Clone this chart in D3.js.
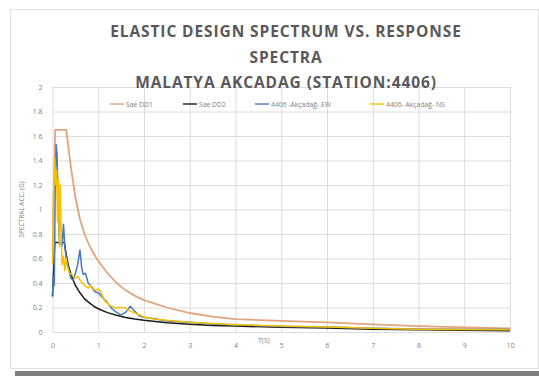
<!DOCTYPE html>
<html>
<head>
<meta charset="utf-8">
<script src="https://cdn.jsdelivr.net/npm/d3@7"></script>
<style>
  body { margin: 0; background: #fff; }
  text { font-family: "Open Sans", sans-serif; }
  .grid line { stroke: #dcdcdc; stroke-width: 1; }
  .grid path { display: none; }
  .tick text { fill: #7f7f7f; font-size: 7px; }
</style>
</head>
<body>
<div id="chart"></div>
<script>
"use strict";

var titleLines = ["ELASTIC DESIGN SPECTRUM VS. RESPONSE", "SPECTRA", "MALATYA AKCADAG (STATION:4406)"];
var xTicks = [0, 1, 2, 3, 4, 5, 6, 7, 8, 9, 10];
var yTicks = [0, 0.2, 0.4, 0.6, 0.8, 1, 1.2, 1.4, 1.6, 1.8, 2];
var yTickLabels = ["0", "0.2", "0.4", "0.6", "0.8", "1", "1.2", "1.4", "1.6", "1.8", "2"];
var seriesNames = ["Sae DD1", "Sae DD2", "4406 -Akçadağ- EW", "4406- Akçadağ- NS"];
var seriesColors = ["#e2a47c", "#1a1a1a", "#4a78c0", "#f5c000"];

// [T, Sa] pairs
var saeDD1 = [[0, 0.66], [0.06, 1.65], [0.3, 1.65], [0.35, 1.5], [0.4, 1.35], [0.5, 1.1], [0.6, 0.92], [0.7, 0.8],
  [0.8, 0.71], [0.9, 0.64], [1, 0.58], [1.2, 0.48], [1.4, 0.4], [1.6, 0.34], [1.8, 0.295], [2, 0.26], [2.5, 0.2],
  [3, 0.155], [3.5, 0.125], [4, 0.105], [5, 0.09], [6, 0.078], [7, 0.062], [8, 0.048], [9, 0.038], [10, 0.03]];
var saeDD2 = [[0, 0.29], [0.05, 0.73], [0.26, 0.73], [0.3, 0.63], [0.35, 0.54], [0.4, 0.475], [0.5, 0.38], [0.6, 0.32],
  [0.7, 0.27], [0.8, 0.24], [0.9, 0.21], [1, 0.19], [1.2, 0.158], [1.4, 0.136], [1.6, 0.119], [1.8, 0.106], [2, 0.095],
  [2.5, 0.076], [3, 0.063], [3.5, 0.054], [4, 0.048], [5, 0.038], [6, 0.032], [7, 0.023], [8, 0.018], [9, 0.014], [10, 0.011]];
var ew4406 = [[0, 0.3], [0.02, 0.45], [0.04, 0.38], [0.06, 1.2], [0.08, 1.53], [0.1, 1.45], [0.12, 1.1], [0.15, 0.75],
  [0.18, 0.72], [0.21, 0.7], [0.24, 0.88], [0.27, 0.7], [0.31, 0.57], [0.35, 0.52], [0.4, 0.44], [0.45, 0.42],
  [0.5, 0.48], [0.55, 0.55], [0.6, 0.67], [0.64, 0.52], [0.67, 0.47], [0.72, 0.48], [0.78, 0.4], [0.85, 0.37],
  [0.92, 0.33], [1, 0.32], [1.1, 0.28], [1.2, 0.24], [1.3, 0.19], [1.4, 0.16], [1.5, 0.14], [1.6, 0.16], [1.7, 0.21],
  [1.8, 0.17], [1.9, 0.13], [2, 0.12], [2.2, 0.11], [2.5, 0.09], [3, 0.08], [3.5, 0.065], [4, 0.058], [5, 0.045],
  [6, 0.04], [7, 0.03], [8, 0.025], [9, 0.022], [10, 0.02]];
var ns4406 = [[0, 0.55], [0.02, 1.1], [0.04, 1.35], [0.05, 1.42], [0.07, 1.2], [0.09, 1.32], [0.11, 0.9], [0.13, 1.25],
  [0.15, 0.7], [0.17, 1.2], [0.19, 0.8], [0.21, 0.55], [0.24, 0.62], [0.27, 0.5], [0.3, 0.6], [0.33, 0.53],
  [0.37, 0.48], [0.42, 0.47], [0.48, 0.44], [0.56, 0.45], [0.63, 0.41], [0.7, 0.38], [0.78, 0.36], [0.84, 0.38],
  [0.93, 0.34], [1, 0.35], [1.05, 0.33], [1.15, 0.25], [1.25, 0.22], [1.37, 0.195], [1.47, 0.2], [1.58, 0.2],
  [1.7, 0.17], [1.8, 0.155], [1.9, 0.14], [2.02, 0.12], [2.24, 0.105], [2.5, 0.095], [3, 0.08], [3.5, 0.07],
  [4, 0.06], [5, 0.048], [6, 0.04], [7, 0.03], [8, 0.022], [9, 0.02], [10, 0.018]];
var allSeries = [saeDD1, saeDD2, ew4406, ns4406];

var width = 539, height = 376;
var svg = d3.select("#chart").append("svg").attr("width", width).attr("height", height);

// chart frame and bottom band
svg.append("rect").attr("x", 10.5).attr("y", 9.5).attr("width", 528).attr("height", 359)
  .attr("fill", "#fff").attr("stroke", "#e0e0e0");
svg.append("rect").attr("x", 15).attr("y", 371).attr("width", 524).attr("height", 5).attr("fill", "#7f7f7f");

var x = d3.scaleLinear().domain([0, 10]).range([52.5, 510]);
var y = d3.scaleLinear().domain([0, 2]).range([332, 87]);

svg.append("g").attr("class", "grid").attr("transform", "translate(0," + y(0) + ")")
  .call(d3.axisBottom(x).tickValues(xTicks).tickSize(-(y(0) - y(2))).tickFormat(""));
svg.append("g").attr("class", "grid").attr("transform", "translate(" + x(0) + ",0)")
  .call(d3.axisLeft(y).tickValues(yTicks).tickSize(-(x(10) - x(0))).tickFormat(""));

// tick labels
var xAxis = svg.append("g").attr("transform", "translate(0," + (y(0) + 8) + ")")
  .call(d3.axisBottom(x).tickValues(xTicks).tickSize(0).tickFormat(d3.format("d")));
xAxis.select(".domain").remove();
var yAxis = svg.append("g").attr("transform", "translate(" + (x(0) - 7) + ",0)")
  .call(d3.axisLeft(y).tickValues(yTicks).tickSize(0).tickFormat(function(d, i) { return yTickLabels[i]; }));
yAxis.select(".domain").remove();

// lines
var line = d3.line().x(function(d) { return x(d[0]); }).y(function(d) { return y(d[1]); });
allSeries.forEach(function(s, i) {
  svg.append("path").datum(s).attr("d", line).attr("fill", "none")
    .attr("stroke", seriesColors[i]).attr("stroke-width", i === 0 ? 1.8 : 1.5)
    .attr("stroke-linejoin", "round");
});

// title
titleLines.forEach(function(t, i) {
  svg.append("text").attr("x", 286).attr("y", 37 + i * 25.5).attr("text-anchor", "middle")
    .attr("fill", "#595959").attr("font-size", 15.5).attr("font-weight", "bold")
    .attr("letter-spacing", 0.9).text(t);
});

// legend
var legendX = [110, 183, 255, 370];
seriesNames.forEach(function(n, i) {
  svg.append("line").attr("x1", legendX[i]).attr("x2", legendX[i] + 14).attr("y1", 104).attr("y2", 104)
    .attr("stroke", seriesColors[i]).attr("stroke-width", 1.4);
  svg.append("text").attr("x", legendX[i] + 16).attr("y", 106.5).attr("font-size", 6.8)
    .attr("fill", "#7f7f7f").text(n);
});

// axis titles
svg.append("text").attr("transform", "translate(24," + y(1) + ") rotate(-90)").attr("text-anchor", "middle")
  .attr("font-size", 6.5).attr("fill", "#7f7f7f").text("SPECTRAL ACC. (G)");
svg.append("text").attr("x", 258).attr("y", 343).attr("font-size", 7).attr("fill", "#7f7f7f").text("T(S)");
</script>
</body>
</html>
